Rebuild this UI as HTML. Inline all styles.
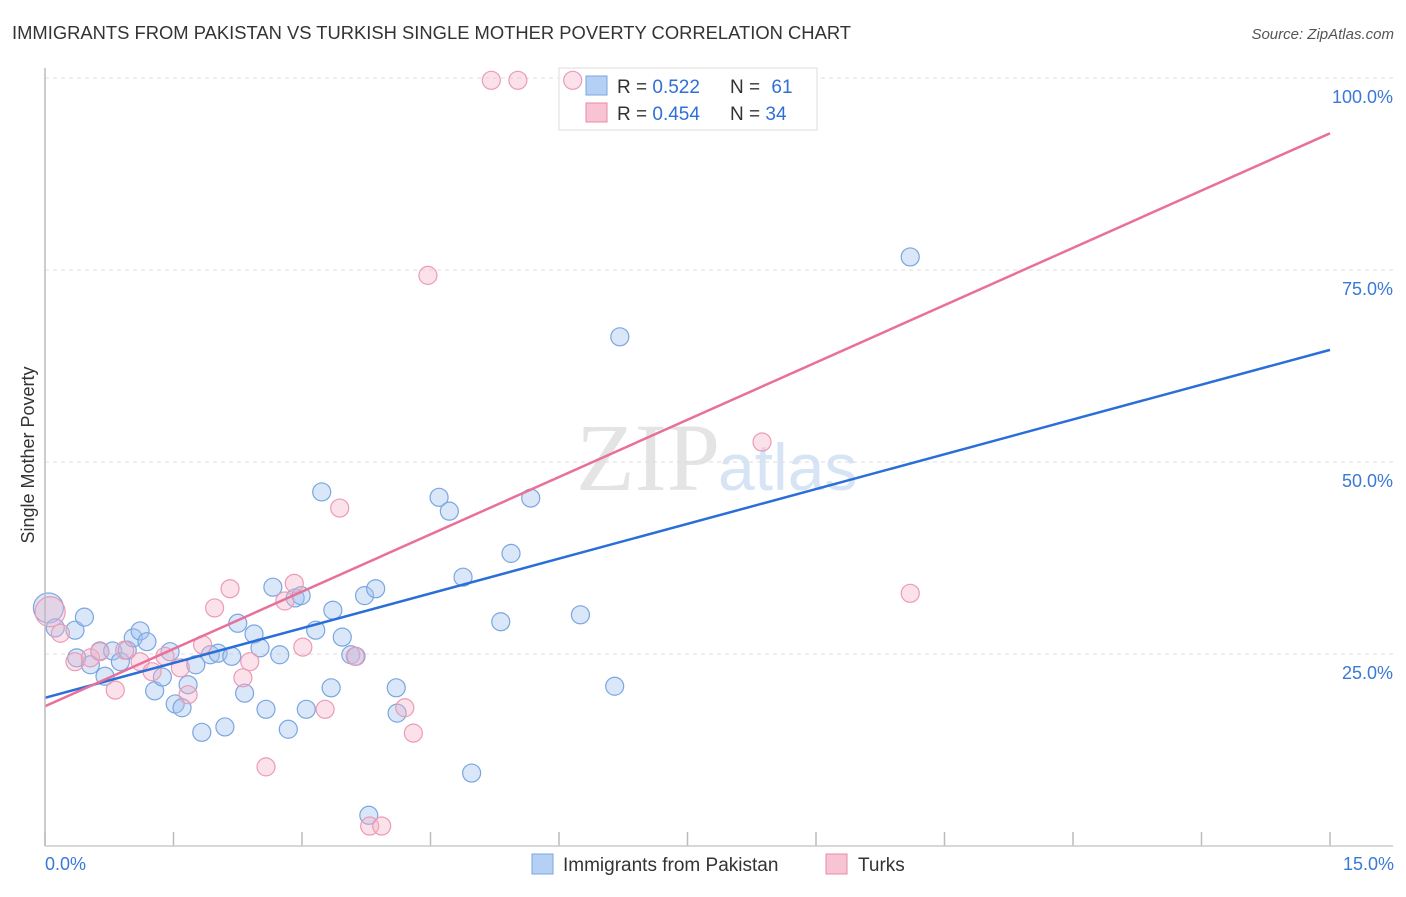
<!DOCTYPE html>
<html><head><meta charset="utf-8"><style>
body{margin:0;background:#fff;font-family:"Liberation Sans",sans-serif;}
</style></head><body>
<svg id="chart" width="1406" height="892" xmlns="http://www.w3.org/2000/svg">
<text x="12" y="39" font-size="18" fill="#333" textLength="839" lengthAdjust="spacingAndGlyphs">IMMIGRANTS FROM PAKISTAN VS TURKISH SINGLE MOTHER POVERTY CORRELATION CHART</text>
<text x="1394" y="39" font-size="15" fill="#555" font-style="italic" text-anchor="end">Source: ZipAtlas.com</text>
<text x="720" y="490" font-size="96" fill="#e4e4e4" font-family="Liberation Serif,serif" text-anchor="end">ZIP</text>
<text x="718" y="490" font-size="66" fill="#d6e4f5">atlas</text>
<text transform="translate(34,455) rotate(-90)" font-size="18" fill="#333" text-anchor="middle">Single Mother Poverty</text>
<g id="grid"></g>
<g>
<rect x="559" y="68" width="258" height="62" fill="#fff" stroke="#ddd"/>
<rect x="586" y="76" width="21" height="19" fill="#b5d0f5" stroke="#7aa6e0"/>
<rect x="586" y="103" width="21" height="19" fill="#f8c3d3" stroke="#e88aa8"/>
<text x="617" y="93" font-size="19" fill="#333">R = <tspan fill="#2f6fd6">0.522</tspan></text>
<text x="730" y="93" font-size="19" fill="#333">N = <tspan fill="#2f6fd6" dx="6">61</tspan></text>
<text x="617" y="120" font-size="19" fill="#333">R = <tspan fill="#2f6fd6">0.454</tspan></text>
<text x="730" y="120" font-size="19" fill="#333">N = <tspan fill="#2f6fd6">34</tspan></text>
</g>
<g id="pts"></g><g id="lines"></g>
<line x1="45" y1="68" x2="45" y2="846" stroke="#bbb" stroke-width="1.5"/>
<line x1="45" y1="846" x2="1393" y2="846" stroke="#ccc" stroke-width="1.5"/>
<text x="45" y="870" font-size="18" fill="#3a78d8">0.0%</text>
<text x="1394" y="870" font-size="18" fill="#3a78d8" text-anchor="end">15.0%</text>
<g>
<rect x="532" y="854" width="21" height="20" fill="#b5d0f5" stroke="#7aa6e0"/>
<text x="563" y="871" font-size="19" fill="#333">Immigrants from Pakistan</text>
<rect x="826" y="854" width="21" height="20" fill="#f8c3d3" stroke="#e88aa8"/>
<text x="858" y="871" font-size="19" fill="#333">Turks</text>
</g>
</svg>
<script>
const yTicks=[25,50,75,100];
const yTickLabels=["25.0%","50.0%","75.0%","100.0%"];
const xTicks=[0,1.5,3,4.5,6,7.5,9,10.5,12,13.5,15];
const blueX=[0.04,0.12,0.35,0.46,0.37,0.53,0.64,0.70,0.79,0.88,0.96,1.03,1.11,1.19,1.28,1.37,1.46,1.52,1.60,1.67,1.76,1.83,1.93,2.02,2.10,2.18,2.25,2.33,2.44,2.51,2.58,2.66,2.74,2.84,2.92,2.99,3.05,3.16,3.23,3.36,3.34,3.47,3.57,3.63,3.73,3.78,3.86,4.10,4.11,4.60,4.72,4.88,4.98,5.32,5.44,5.67,6.25,6.65,6.71,10.10];
const blueY=[31.0,28.4,28.1,29.8,24.5,23.6,25.4,22.1,25.4,24.0,25.5,27.1,28.0,26.6,20.2,22.0,25.3,18.5,18.0,21.0,23.6,14.8,24.9,25.1,15.5,24.7,29.0,19.9,27.6,25.8,17.8,33.7,24.9,15.2,32.3,32.6,17.8,28.1,46.1,30.7,20.6,27.2,24.9,24.7,32.6,4.0,33.5,20.6,17.3,45.4,43.6,35.0,9.5,29.2,38.1,45.3,30.1,20.8,66.3,76.7];
const pinkX=[0.06,0.18,0.35,0.53,0.64,0.82,0.93,1.11,1.25,1.40,1.58,1.67,1.84,1.98,2.16,2.31,2.39,2.58,2.80,2.91,3.01,3.27,3.44,3.62,3.79,3.93,4.20,4.30,4.47,5.21,5.52,6.16,8.37,10.10];
const pinkY=[30.5,27.7,24.0,24.5,25.3,20.3,25.5,24.0,22.7,24.7,23.2,19.7,26.2,31.0,33.5,21.9,24.0,10.3,31.9,34.2,25.9,17.8,44.0,24.7,2.6,2.6,18.0,14.7,74.3,99.7,99.7,99.7,52.6,32.9];
const blueTrend=[19.3,64.6];
const pinkTrend=[18.2,92.8];
const NS="http://www.w3.org/2000/svg";
const sx=v=>45+v/15*1285, sy=v=>846-v/100*768;
function mk(t,a,p){const e=document.createElementNS(NS,t);for(const k in a)e.setAttribute(k,a[k]);p.appendChild(e);return e;}
const grid=document.getElementById('grid');
yTicks.forEach((t,i)=>{
 const l=mk('line',{x1:45,x2:1393,y1:sy(t),y2:sy(t),stroke:'#ddd','stroke-dasharray':'4,4'},grid);
 
 
 const tx=mk('text',{x:1393,y:sy(t)+25,'font-size':18,fill:'#3a78d8','text-anchor':'end'},grid);
 tx.textContent=yTickLabels[i];
 
 
});
xTicks.forEach(t=>{
 const l=mk('line',{x1:sx(t),x2:sx(t),y1:832,y2:846,stroke:'#bbb','stroke-width':1.5},grid);
 
 
});
const pts=document.getElementById('pts');
blueX.forEach((x,i)=>{
 const c=mk('circle',{cx:sx(x),cy:sy(blueY[i]),r:i==0?15:9,fill:'rgba(160,195,240,0.4)',stroke:'#7aa6e0','stroke-width':1.2},pts);
 
 
});
pinkX.forEach((x,i)=>{
 const c=mk('circle',{cx:sx(x),cy:sy(pinkY[i]),r:i==0?15:9,fill:'rgba(245,180,200,0.38)',stroke:'#ec9ab5','stroke-width':1.2},pts);
 
 
});
const lines=document.getElementById('lines');
const b=mk('line',{x1:sx(0),y1:sy(blueTrend[0]),x2:sx(15),y2:sy(blueTrend[1]),stroke:'#2a6fd8','stroke-width':2.5},lines);


const p=mk('line',{x1:sx(0),y1:sy(pinkTrend[0]),x2:sx(15),y2:sy(pinkTrend[1]),stroke:'#e8709a','stroke-width':2.5},lines);


</script>
</body></html>
